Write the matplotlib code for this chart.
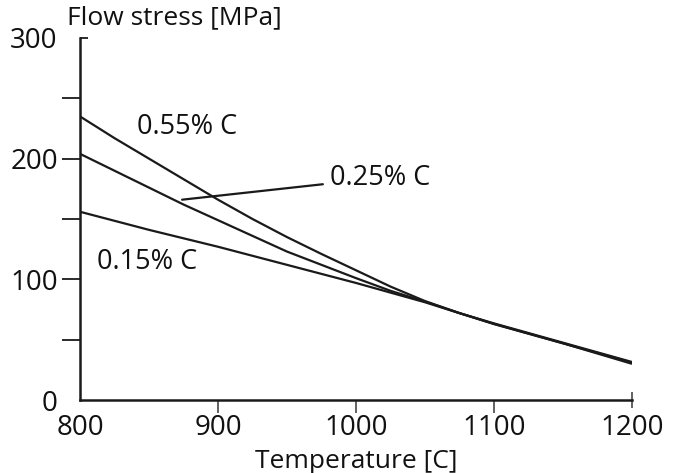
import matplotlib
matplotlib.use("Agg")
import matplotlib.pyplot as plt
from matplotlib import lines as mlines

plt.rcParams['font.family'] = ['Open Sans', 'DejaVu Sans']

# Flow stress of carbon steels vs. temperature
temperature = [800, 825, 850, 875, 900, 925, 950, 975, 1000,
               1025, 1050, 1075, 1100, 1125, 1150, 1175, 1200]
stress_055 = [235, 217, 200, 183, 166, 150, 135, 121, 107.5,
              94, 82, 72, 63, 55, 47, 38.5, 30]
stress_025 = [204, 190, 176, 162, 149, 136, 123, 112, 101,
              90.5, 81.5, 72, 63, 55, 47, 39, 31]
stress_015 = [156, 148.5, 141, 134, 127, 119.5, 112, 104.5, 97,
              89, 81, 72, 63.5, 55.5, 47.5, 39.5, 31.5]

x_ticks = [800, 900, 1000, 1100, 1200]
y_major = [0, 100, 200, 300]
y_minor = [50, 150, 250]

ink = '#1a1a1a'
text_col = '#111111'

fig = plt.figure(figsize=(6.74, 4.73), dpi=100)
ax = fig.add_axes([0.1187, 0.1543, 0.819, 0.7654])

for s in (stress_055, stress_025, stress_015):
    ax.plot(temperature, s, color=ink, lw=1.6, solid_capstyle='butt',
            solid_joinstyle='round')

ax.set_xlim(800, 1200)
ax.set_ylim(0, 300)

for side in ('top', 'right'):
    ax.spines[side].set_visible(False)
for side in ('left', 'bottom'):
    ax.spines[side].set_linewidth(1.8)
    ax.spines[side].set_color(ink)

ax.set_xticks(x_ticks)
ax.set_yticks(y_major)
ax.set_yticks(y_minor, minor=True)
ax.tick_params(axis='y', which='both', direction='out', length=13, width=1.3,
               color=ink, labelsize=20, pad=3, labelcolor=text_col)
ax.tick_params(axis='x', which='major', direction='out', length=9, width=1.3,
               color='#555555', labelsize=20, pad=1, labelcolor=text_col)

fig.canvas.draw()
yt = ax.yaxis.get_major_ticks()
yt[0].tick1line.set_visible(False)
yt[-1].tick1line.set_marker(mlines.TICKRIGHT)
yt[-1].tick1line.set_markersize(6)
xt = ax.xaxis.get_major_ticks()
xt[0].tick1line.set_visible(False)
xt[-1].tick1line.set_marker('|')
xt[-1].tick1line.set_markersize(12)

ax.set_xlabel('Temperature [C]', fontsize=19, labelpad=5, color=text_col)
fig.text(0.099, 0.963, 'Flow stress [MPa]', fontsize=19, va='center',
         ha='left', color=text_col)

ax.text(841, 226, '0.55% C', fontsize=19.5, va='center', ha='left', color=text_col)
ax.text(812, 114, '0.15% C', fontsize=19.5, va='center', ha='left', color=text_col)
ax.annotate('0.25% C', xy=(874, 166), xytext=(981, 184), fontsize=19.5,
            va='center', ha='left', color=text_col,
            arrowprops=dict(arrowstyle='-', color=ink, lw=1.6,
                            shrinkA=3, shrinkB=0))

fig.savefig('out.png', dpi=100, facecolor='white')
